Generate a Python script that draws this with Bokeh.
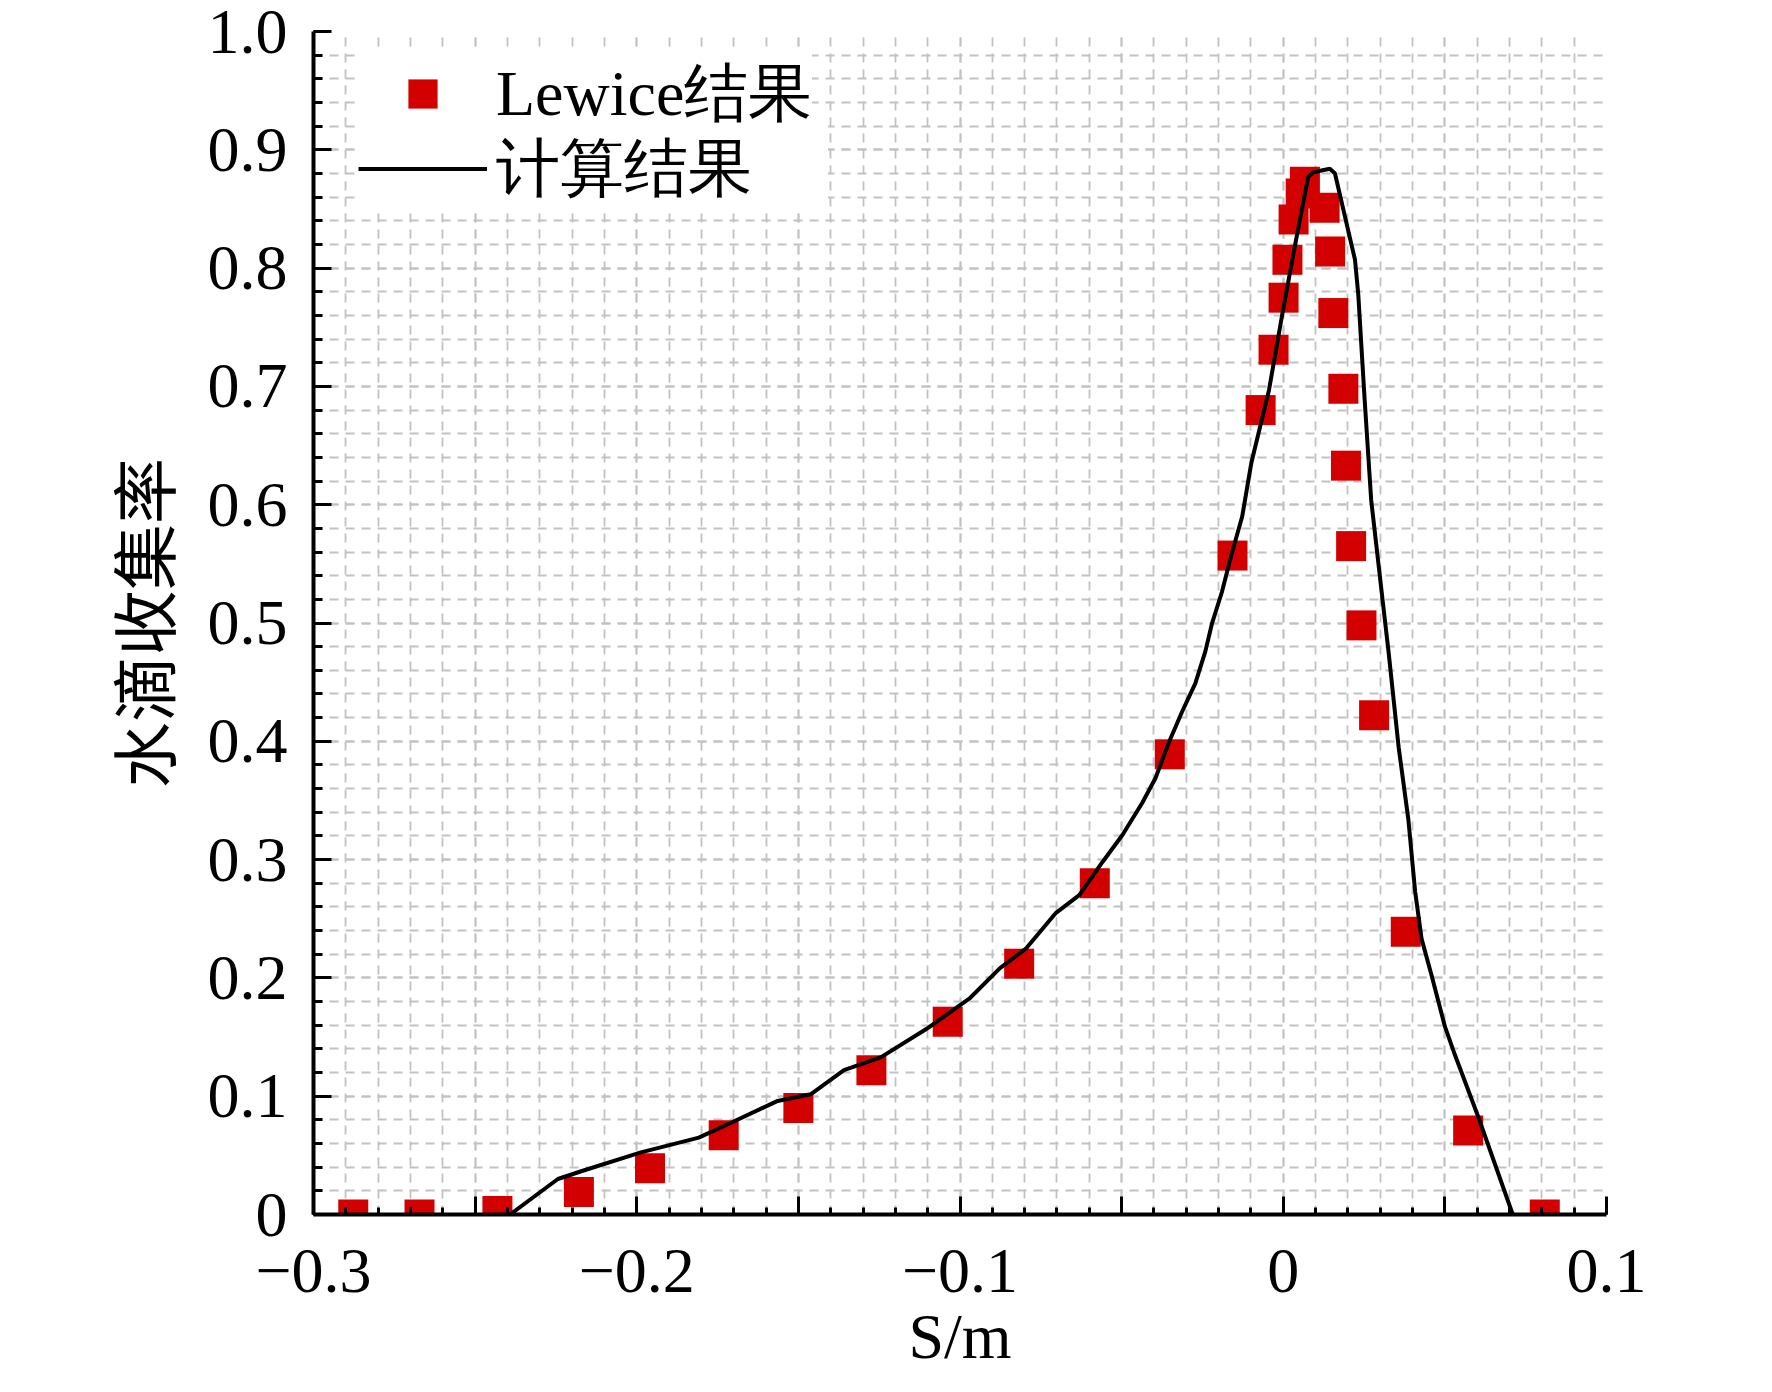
from bokeh.plotting import figure
from bokeh.models import Range1d, FixedTicker, Legend, LegendItem
from bokeh.embed import file_html
from bokeh.resources import INLINE

# ---- data ----
lewice_s = [-0.2877, -0.2672, -0.2431, -0.2179, -0.1959, -0.1731, -0.1500, -0.1274,
            -0.1038, -0.0817, -0.0583, -0.0351, -0.0157, -0.0070, -0.0030, 0.0001,
            0.0013, 0.0032, 0.0054, 0.0067, 0.0128, 0.0145, 0.0155, 0.0186,
            0.0194, 0.0210, 0.0242, 0.0281, 0.0379, 0.0572, 0.0809]
lewice_beta = [0.0, 0.0, 0.003, 0.019, 0.039, 0.067, 0.090, 0.122,
               0.163, 0.212, 0.280, 0.389, 0.557, 0.680, 0.731, 0.775,
               0.807, 0.841, 0.863, 0.873, 0.851, 0.814, 0.762, 0.698,
               0.633, 0.565, 0.498, 0.422, 0.239, 0.071, 0.0]

calc_s = [-0.2392, -0.2244, -0.2167, -0.1987, -0.1808, -0.1705, -0.1564, -0.1462,
          -0.1359, -0.1244, -0.1103, -0.0969, -0.0877, -0.0795, -0.0703, -0.0631,
          -0.0559, -0.0497, -0.0436, -0.0395, -0.0354, -0.0313, -0.0272, -0.0241,
          -0.0221, -0.0190, -0.0159, -0.0127, -0.0099, -0.0044, -0.0003, 0.0039,
          0.0077, 0.0093, 0.0144, 0.0160, 0.0222, 0.0232, 0.0252, 0.0272,
          0.0307, 0.0326, 0.0357, 0.0387, 0.0408, 0.0428, 0.0459, 0.0500,
          0.0531, 0.0602, 0.0710]
calc_beta = [0.0, 0.030, 0.037, 0.0525, 0.065, 0.078, 0.096, 0.1016,
             0.122, 0.133, 0.157, 0.183, 0.208, 0.225, 0.255, 0.270,
             0.298, 0.321, 0.348, 0.369, 0.399, 0.425, 0.449, 0.476,
             0.499, 0.526, 0.559, 0.590, 0.635, 0.697, 0.761, 0.823,
             0.877, 0.881, 0.884, 0.880, 0.807, 0.778, 0.688, 0.604,
             0.520, 0.475, 0.395, 0.334, 0.273, 0.233, 0.202, 0.159,
             0.135, 0.0835, 0.0]

x_ticks = [-0.3, -0.25, -0.2, -0.15, -0.1, -0.05, 0.0, 0.05, 0.1]
x_tick_labels = ["\u22120.3", "", "\u22120.2", "", "\u22120.1", "", "0", "", "0.1"]
y_ticks = [0.0, 0.1, 0.2, 0.3, 0.4, 0.5, 0.6, 0.7, 0.8, 0.9, 1.0]
y_tick_labels = ["0", "0.1", "0.2", "0.3", "0.4", "0.5", "0.6", "0.7", "0.8", "0.9", "1.0"]
x_minor = [round(-0.3 + 0.01 * i, 2) for i in range(41)]
y_minor = [round(0.02 * i, 2) for i in range(51)]

legend_labels = ["Lewice结果", "计算结果"]
y_label = "水滴收集率"
x_label = "S/m"

SERIF = "Liberation Serif"
FS = "64px"

p = figure(width=1756, height=1376,
           x_range=Range1d(-0.3, 0.1), y_range=Range1d(0.0, 1.0),
           output_backend="svg", toolbar_location=None,
           min_border_left=313, min_border_right=150,
           min_border_top=31, min_border_bottom=162)
p.outline_line_color = None
p.background_fill_color = "white"
p.border_fill_color = "white"

# grids
for g in (p.xgrid, p.ygrid):
    g.grid_line_color = "#c2c2c2"
    g.grid_line_dash = "9 7"
    g.grid_line_width = 1.8
    g.minor_grid_line_color = "#c2c2c2"
    g.minor_grid_line_dash = "9 7"
    g.minor_grid_line_width = 1.8

# axes
p.xaxis.ticker = FixedTicker(ticks=x_ticks, minor_ticks=x_minor)
p.yaxis.ticker = FixedTicker(ticks=y_ticks, minor_ticks=y_minor)
p.xaxis.major_label_overrides = dict(zip(x_ticks, x_tick_labels))
p.yaxis.major_label_overrides = dict(zip(y_ticks, y_tick_labels))

for ax in (p.xaxis, p.yaxis):
    ax.axis_line_width = 4
    ax.axis_line_color = "black"
    ax.major_tick_line_width = 3
    ax.minor_tick_line_width = 3
    ax.major_tick_line_color = "black"
    ax.minor_tick_line_color = "black"
    ax.major_tick_out = 0
    ax.minor_tick_out = 0
    ax.major_tick_in = 18
    ax.major_label_text_font = SERIF
    ax.major_label_text_font_size = FS
    ax.major_label_text_color = "black"
p.yaxis.minor_tick_in = 9
p.xaxis.minor_tick_in = 7
p.yaxis.major_label_standoff = 26
p.xaxis.major_label_standoff = 35

p.yaxis.axis_label = y_label
p.yaxis.axis_label_text_font = "Noto Sans CJK SC"
p.yaxis.axis_label_text_font_size = "66px"
p.yaxis.axis_label_text_font_style = "normal"
p.yaxis.axis_label_text_color = "black"
p.yaxis.axis_label_standoff = 16

p.xaxis.axis_label = x_label
p.xaxis.axis_label_text_font = SERIF
p.xaxis.axis_label_text_font_size = FS
p.xaxis.axis_label_text_font_style = "normal"
p.xaxis.axis_label_text_color = "black"
p.xaxis.axis_label_standoff = 6

# data
sq = p.scatter(lewice_s, lewice_beta, marker="square", size=30,
               fill_color="#d30000", line_color=None)
ln = p.line(calc_s, calc_beta, line_color="black", line_width=4)

common = dict(orientation="vertical", glyph_width=129, glyph_height=73,
              label_height=73, label_standoff=9, spacing=0, margin=0,
              label_text_font=SERIF, label_text_font_size=FS,
              label_text_color="black",
              background_fill_color="white", background_fill_alpha=1.0,
              border_line_color=None)

legend_sq = Legend(items=[LegendItem(label=legend_labels[0], renderers=[sq])],
                   location=(45, 1077), padding=16, label_width=316, **common)
legend_ln = Legend(items=[LegendItem(label=legend_labels[1], renderers=[ln])],
                   location=(45, 1002), padding=0, label_width=332, **common)
p.add_layout(legend_sq)
p.add_layout(legend_ln)

open("out.html", "w").write(file_html(p, INLINE))
